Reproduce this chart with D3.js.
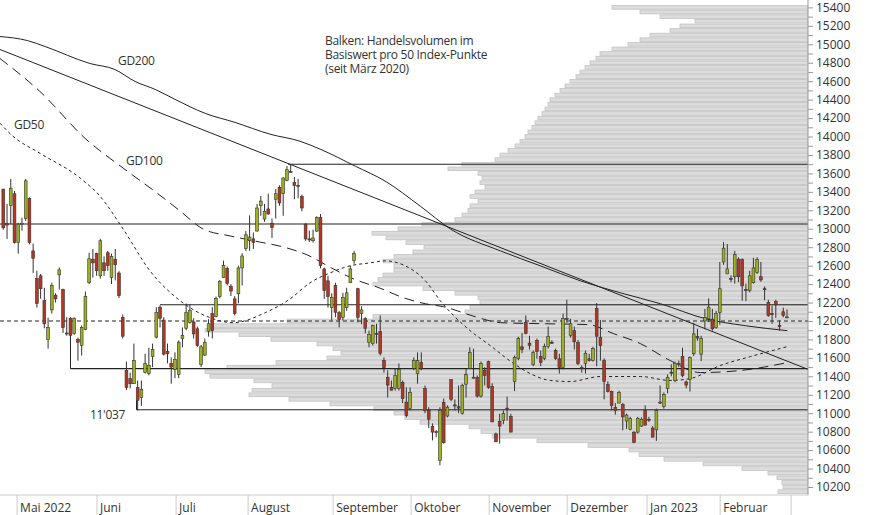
<!DOCTYPE html>
<html><head><meta charset="utf-8">
<script src="https://cdn.jsdelivr.net/npm/d3@7"></script>
<style>body{margin:0;background:#fff}svg{display:block}text{font-family:"Open Sans",sans-serif;fill:#333}</style>
</head><body><svg id="c" width="874" height="515"></svg>
<script>
// OHLC per trading day (Apr 2022 - Feb 2023)
const ohlc = [
[13430,13430,12990,13010],[13060,13270,12890,13040],[13250,13540,13050,13440],[13380,13410,12840,12850],[12850,13065,12730,13050],
[13050,13120,12980,13060],[13110,13540,13085,13520],[13330,13340,12830,12850],[12760,12840,12520,12680],[12460,12545,12145,12190],
[12490,12510,12240,12350],[12220,12360,11920,11970],[11800,12035,11700,11930],[12120,12415,12080,12385],[12280,12300,12200,12240],
[12500,12580,12340,12555],[12340,12350,11870,11930],[11870,12040,11840,11860],[12030,12040,11790,11845],[11865,12040,11850,12030],
[11800,11820,11570,11770],[11735,11950,11625,11930],[11910,12320,11900,12265],[12415,12740,12400,12675],[12670,12780,12470,12630],
[12730,12740,12490,12545],[12490,12890,12460,12870],[12630,12700,12490,12545],[12740,12760,12545,12600],[12470,12730,12400,12700],
[12670,12780,12440,12610],[12520,12540,12250,12275],[12040,12070,11810,11835],[11465,11560,11250,11280],[11375,11440,11270,11320],
[11320,11755,11320,11570],[11280,11355,11030,11140],[11170,11355,11080,11260],[11440,11645,11430,11540],[11430,11710,11410,11520],
[11615,11755,11500,11690],[11825,12150,11810,12095],[12150,12170,11930,12030],[12010,12040,11625,11640],[11670,11755,11540,11645],
[11540,11605,11320,11500],[11475,11660,11380,11585],[11420,11790,11380,11770],[11810,11930,11715,11845],[11920,12190,11900,12095],
[11985,12180,11970,12115],[11990,12030,11810,11860],[11915,11940,11720,11735],[11530,11740,11500,11720],[11630,11810,11620,11770],
[11890,12020,11830,11970],[12080,12150,11810,11895],[12050,12265,12040,12245],[12265,12445,12245,12430],[12470,12655,12465,12600],
[12570,12590,12385,12405],[12375,12400,12270,12325],[12240,12270,12060,12080],[12295,12600,12190,12575],[12575,12735,12385,12705],
[12785,12975,12760,12935],[12870,13145,12760,12910],[12890,12960,12780,12850],[12975,13270,12970,13225],[13250,13355,13140,13300],
[13105,13270,13075,13190],[13215,13380,13150,13160],[13060,13110,12900,13015],[13320,13430,13110,13380],[13450,13470,13250,13280],
[13380,13560,13140,13550],[13525,13680,13515,13640],[13620,13700,13610,13615],[13500,13560,13320,13470],[13470,13540,13330,13460],
[13350,13370,13190,13225],[13050,13060,12870,12890],[12890,12980,12855,12880],[12870,12990,12850,12900],[12975,13135,12965,13120],
[13120,13160,12570,12600],[12565,12580,12240,12330],[12435,12490,12145,12265],[12145,12300,12005,12255],[12385,12415,12040,12095],
[12090,12110,11930,12015],[12040,12305,12005,12255],[12145,12360,12110,12305],[12415,12600,12415,12565],[12655,12760,12620,12730],
[12350,12360,11985,12040],[12080,12160,11965,12120],[12025,12040,11865,11920],[11770,11895,11715,11855],[11755,11960,11735,11950],
[11865,11970,11755,11860],[11885,12060,11625,11650],[11570,11605,11440,11495],[11390,11465,11170,11305],[11280,11355,11245,11250],
[11270,11485,11245,11410],[11270,11540,11245,11475],[11335,11355,11110,11160],[11120,11280,10955,10975],[11050,11280,11030,11225],
[11485,11605,11465,11570],[11430,11660,11320,11570],[11550,11660,11465,11485],[11270,11300,11000,11030],[11030,11065,10840,10935],
[10860,10890,10705,10795],[10800,10815,10740,10795],[10490,11065,10435,11030],[11115,11160,10670,10680],[10970,11085,10955,11065],
[11365,11365,11130,11150],[11090,11150,11030,11080],[11070,11300,11000,11055],[11000,11320,10985,11300],[11315,11485,11170,11420],
[11485,11715,11485,11660],[11390,11700,11380,11380],[11390,11410,11170,11185],[11185,11560,11170,11540],[11465,11500,11300,11410],
[11560,11570,11265,11280],[11290,11325,10905,10905],[10775,10790,10690,10690],[10910,10995,10670,10860],[10920,11030,10880,10995],
[11055,11180,10920,11050],[10965,10995,10795,10795],[11345,11625,11240,11605],[11595,11830,11575,11810],[11720,11870,11650,11690],
[11985,12060,11855,11865],[11760,11840,11690,11735],[11525,11680,11510,11660],[11790,11810,11590,11670],[11615,11680,11510,11550],
[11595,11755,11575,11725],[11725,11940,11700,11830],[11770,11790,11750,11765],[11680,11700,11575,11595],[11590,11645,11430,11495],
[11495,12080,11475,12025],[12025,12230,11980,12020],[11845,12025,11820,11970],[11895,11940,11690,11775],[11765,11795,11520,11540],
[11495,11520,11440,11490],[11540,11680,11430,11650],[11590,11645,11560,11570],[11570,11720,11560,11700],[12135,12195,11510,11835],
[11820,12010,11570,11735],[11570,11595,11150,11345],[11310,11345,11225,11235],[11235,11245,11030,11085],[11060,11110,10985,11030],
[11110,11245,11105,11225],[11095,11110,10815,10960],[10915,10995,10830,10980],[10825,10960,10815,10945],[10795,10805,10675,10685],
[10795,10960,10780,10945],[10860,10955,10850,10935],[11030,11085,10870,10870],[10935,10960,10905,10925],[10840,10860,10740,10740],
[10820,11050,10700,11030],[11120,11300,11100,11115],[11075,11225,11050,11205],[11270,11420,11215,11390],[11445,11530,11400,11440],
[11355,11560,11335,11540],[11540,11570,11500,11535],[11615,11710,11390,11410],[11340,11355,11270,11305],[11365,11615,11235,11605],
[11645,11980,11620,11860],[11830,11915,11785,11815],[11640,11840,11565,11810],[12000,12130,11910,12040],[12025,12245,11990,12150],
[12020,12130,11895,11915],[11930,12110,11915,12080],[12090,12640,11960,12350],[12640,12855,12610,12790],[12510,12835,12510,12565],
[12460,12495,12420,12455],[12480,12760,12405,12720],[12670,12690,12420,12480],[12665,12680,12220,12380],[12340,12405,12215,12330],
[12330,12545,12310,12490],[12415,12685,12405,12575],[12525,12690,12510,12665],[12480,12640,12425,12445],[12350,12375,12225,12345],
[12200,12230,12045,12060],[12080,12165,11970,12075],[12210,12230,12035,12175],[11950,12005,11895,11945],[12100,12145,12040,12060],
[12040,12125,12030,12045]];

// Volume profile (levels every 50 points, top to bottom) – relative volume
const volLevels = d3.range(15400, 10100, -50);
const volValues = [196,168,148,113,128,138,158,168,180,196,208,212,218,223,228,232,238,243,248,253,258,260,263,266,270,273,276,280,283,288,293,300,308,313,346,360,330,326,328,323,333,338,330,338,340,346,353,386,410,436,422,402,384,395,414,425,414,414,425,430,435,385,353,330,328,338,343,435,521,598,603,569,537,491,475,467,481,532,581,603,598,554,536,556,559,519,478,434,414,403,388,339,327,316,271,220,179,169,144,105,66,40,31,26,25,30,40,66];

const months = ["Mai 2022","Juni","Juli","August","September","Oktober","November","Dezember","Jan 2023","Februar",""];
const monthStart = [3.7,25.1,46.3,65.6,88.4,109.3,130.2,151.1,172.5,192.1,211.1];

const gd200 = [[-0.9,15084],[6.4,15041],[11.2,14976],[23.2,14792],[29.9,14727],[35.3,14597],[40.7,14511],[46,14403],[54.1,14251],[62.1,14153],[71.5,14025],[79.5,13949],[84.9,13863],[94.3,13679],[102.3,13517],[111.7,13246],[119.8,12998],[133.2,12760],[143.9,12598],[154.6,12436],[165.3,12306],[176.1,12187],[188.1,12025],[198.8,11949],[210.1,11895]];
const gd100 = [[-0.9,14846],[9.8,14489],[21.9,13981],[33.2,13625],[41.2,13387],[47.4,13192],[53.5,12998],[60.8,12922],[68.6,12857],[75,12803],[81.4,12717],[87.9,12576],[93.8,12457],[100.7,12360],[107.2,12252],[113.1,12187],[117.9,12155],[126.5,12046],[133.2,11982],[143.9,11971],[156.8,11960],[163.5,11863],[170.7,11755],[178.7,11571],[186.8,11441],[197.5,11463],[210.1,11549]];
const gd50 = [[-0.9,14144],[2.6,14003],[9.8,13819],[20.6,13549],[25.9,13354],[32.1,12998],[39.3,12544],[47.4,12219],[55.4,12036],[61.6,11982],[70.2,12090],[76.9,12241],[82.2,12414],[87.6,12522],[92.9,12598],[98.3,12630],[102.3,12652],[107.7,12598],[113.1,12436],[117.1,12219],[125.1,11895],[130.5,11733],[136.4,11549],[141.2,11430],[146.6,11355],[151.9,11344],[160,11398],[170.7,11398],[178.7,11355],[184.1,11376],[192.1,11517],[200.2,11614],[210.1,11722]];
const trend = [[-0.9,14944],[215.7,11474]];
// support / resistance levels: [value, fromIndex]
const levels = [[13700,76.3],[13052,-1],[12176,42],[11484,18],[11037,35.7]];

const svg = d3.select("#c");
const W = 808, B = 495;
const x = d3.scaleLinear().domain([0, ohlc.length-1]).range([3.3, 787]);
const y = d3.scaleLinear().domain([10200, 15400]).range([487, 7.4]);
svg.append("clipPath").attr("id","pc").append("rect").attr("x",0).attr("y",0).attr("width",W).attr("height",B);
const g = svg.append("g").attr("clip-path","url(#pc)");

// volume profile
const vs = d3.scaleLinear().domain([0, 1000]).range([0, 1000]);
const bh = y(0) - y(50);
g.selectAll("rect.v").data(volLevels).join("rect")
  .attr("x", (d,i)=> W - vs(volValues[i])).attr("width",(d,i)=>vs(volValues[i]))
  .attr("y", d=> y(d+25)+0.5).attr("height", bh-1)
  .attr("fill","#dcdcdc").attr("stroke","#c2c2c2").attr("stroke-width",0.8);

// levels
g.selectAll("line.l").data(levels).join("line")
  .attr("x1",d=>d[1]<0?0:x(d[1])).attr("x2",W).attr("y1",d=>y(d[0])).attr("y2",d=>y(d[0]))
  .attr("stroke","#222").attr("stroke-width",1.1);
g.append("line").attr("x1",x(18)).attr("x2",x(18)).attr("y1",y(12030)).attr("y2",y(11484)).attr("stroke","#222");
g.append("line").attr("x1",x(35.7)).attr("x2",x(35.7)).attr("y1",y(11140)).attr("y2",y(11037)).attr("stroke","#222");
g.append("line").attr("x1",0).attr("x2",W).attr("y1",y(12000)).attr("y2",y(12000))
  .attr("stroke","#222").attr("stroke-dasharray","4,3").attr("stroke-width",1.1);

// MAs
const ln = d3.line().x(d=>x(d[0])).y(d=>y(d[1])).curve(d3.curveMonotoneX);
g.append("path").attr("d",ln(trend)).attr("fill","none").attr("stroke","#222").attr("stroke-width",1);
g.append("path").attr("d",ln(gd200)).attr("fill","none").attr("stroke","#222").attr("stroke-width",1);
g.append("path").attr("d",ln(gd100)).attr("fill","none").attr("stroke","#222").attr("stroke-dasharray","10,6");
g.append("path").attr("d",ln(gd50)).attr("fill","none").attr("stroke","#222").attr("stroke-dasharray","3,3");

// candles
const cw = 2.8;
const c = g.selectAll("g.c").data(ohlc).join("g");
c.append("line").attr("x1",(d,i)=>x(i)).attr("x2",(d,i)=>x(i)).attr("y1",d=>y(d[1])).attr("y2",d=>y(d[2])).attr("stroke","#333").attr("stroke-width",1);
c.append("rect").attr("x",(d,i)=>x(i)-cw/2).attr("width",cw)
  .attr("y",d=>y(Math.max(d[0],d[3]))).attr("height",d=>Math.max(1,Math.abs(y(d[0])-y(d[3]))))
  .attr("fill",d=>d[3]>=d[0]?"#9fb21e":"#b8351f").attr("stroke","#333").attr("stroke-width",0.6);

// right axis
const ax = svg.append("g").attr("transform",`translate(${W},0)`)
  .call(d3.axisRight(y).tickValues(d3.range(10200,15401,100)).tickSize(5).tickFormat(d=>d%200===0?d:""));
ax.select(".domain").attr("stroke","#999").attr("d",`M0,0V${B}`);
ax.selectAll(".tick line").attr("stroke","#999");
ax.selectAll("text").attr("x",8).style("font-size","12px").style("font-family","Open Sans").attr("fill","#444");

// bottom axis
svg.append("line").attr("x1",0).attr("x2",W).attr("y1",B).attr("y2",B).attr("stroke","#ccc");
svg.selectAll("line.m").data(monthStart).join("line").attr("x1",d=>x(d)).attr("x2",d=>x(d)).attr("y1",B).attr("y2",515).attr("stroke","#ccc");
svg.selectAll("text.m").data(monthStart).join("text").attr("x",d=>x(d)+3).attr("y",512).text((d,i)=>months[i]).style("font-size","12px");

// annotations
const t = [["Balken: Handelsvolumen im",325,45],["Basiswert pro 50 Index-Punkte",325,59],["(seit März 2020)",325,73],
  ["GD200",118,65],["GD50",14,129],["GD100",126,165],["11'037",90,419]];
svg.selectAll("text.a").data(t).join("text").attr("x",d=>d[1]).attr("y",d=>d[2]).text(d=>d[0])
  .style("font-size","12px").style("letter-spacing","-0.3px");
</script></body></html>
